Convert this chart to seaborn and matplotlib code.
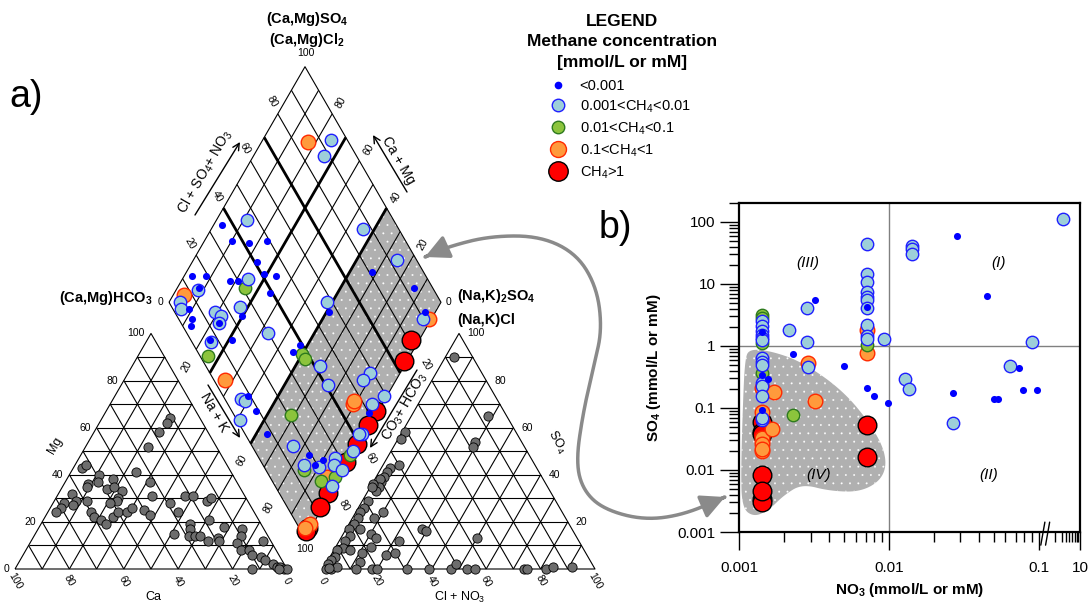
import numpy as np
import seaborn as sns
import matplotlib
matplotlib.use('Agg')
from matplotlib import pyplot as plt
from matplotlib.path import Path
from matplotlib.patches import FancyArrowPatch, Polygon
from matplotlib.lines import Line2D
from matplotlib.ticker import FixedLocator, NullFormatter

sns.set_theme(style='white')
plt.rcParams['font.family'] = ['Liberation Sans', 'DejaVu Sans']
plt.rcParams.update({
    'mathtext.fontset': 'custom',
    'mathtext.rm': 'Liberation Sans',
    'mathtext.it': 'Liberation Sans:italic',
    'mathtext.bf': 'Liberation Sans:bold',
    'text.color': 'black', 'axes.labelcolor': 'black',
    'xtick.color': 'black', 'ytick.color': 'black', 'axes.edgecolor': 'black',
    'hatch.linewidth': 0.15,
})

# ---------------- data ----------------
# cation triangle (Ca %, Mg %), Na+K = rest
cat_ca = [11, 13, 18, 25, 54, 52, 35, 49, 51, 45, 55, 56, 32, 49, 46, 44, 47, 48, 51, 34,
          63, 63, 68, 70, 73, 59, 65, 60, 60, 58, 57, 53, 50, 47, 44, 40, 39, 29, 22, 19,
          15, 13, 28, 18, 26, 27, 34, 29, 27, 25, 23, 19, 19, 14, 8, 10, 13, 13, 10, 10,
          3, 7, 6, 13, 4, 3, 2, 1, 0, 3]
cat_mg = [64, 62, 58, 52, 43, 44, 41, 40, 37, 38, 36, 35, 37, 34, 35, 33, 30, 29, 28, 31,
          32, 29, 28, 26, 24, 29, 27, 24, 22, 21, 19, 22, 24, 24, 26, 25, 23, 28, 31, 31,
          29, 30, 24, 21, 19, 17, 15, 14, 14, 14, 12, 13, 12, 18, 17, 14, 11, 8, 8, 6,
          12, 5, 4, 0, 2, 1, 1, 0, 0, 0]

# anion triangle (Cl+NO3 %, SO4 %), CO3+HCO3 = rest
an_cl = [3, 28, 29, 29, 1, 1, 6, 3, 3, 3, 3, 2, 3, 3, 0.5, 0.5, 10, 2, 2, 1.5,
         2, 2, 1, 3, 2, 3, 1, 2, 1, 1, 1, 3, 4.5, 6, 5, 8, 10, 13, 20, 23,
         22, 12, 11, 13, 12, 18, 20, 31, 39, 47, 48, 53, 56, 74, 75, 82, 84, 91, 28, 30,
         50, 2]
an_so4 = [90, 65, 54, 52, 58, 55, 44, 43, 41, 39, 37, 38, 35, 33, 36, 35, 24, 29, 26, 24,
          21.5, 19, 17, 14, 12, 9, 8, 5, 4, 2, 0, 0, 1, 8, 17, 21.5, 15, 13, 6, 7,
          12, 3, 7, 9.5, 0, 0, 0, 0, 0, 0, 2, 0, 0, 0, 0, 0, 1, 1, 17, 16,
          13, 0.5]

# diamond: Na+K %, Cl+SO4+NO3 %, methane class (0..4)
dia_na = [17, 25, 26, 11, 3, 10, 17, 23, 24, 29, 34, 35, 24, 25, 18, 21, 3, 8, 8, 8,
          4, 4, 6, 56, 75, 68, 87, 58, 61, 97, 99, 96, 19, 22, 27, 9, 12, 13, 23, 30,
          23, 23, 24, 31, 26, 37, 43, 47, 49, 49, 51, 55, 64, 56, 57, 60, 62, 69, 76, 89,
          88, 99, 97, 99, 89, 89, 96, 99, 97, 99, 99, 98, 99, 76, 69, 99, 99, 99, 84, 88,
          90, 84, 90, 94, 95, 99, 85, 94, 98, 99, 99, 99, 99, 99, 98, 95, 99]
dia_an = [85, 94, 88, 46, 36, 36, 42, 49, 41, 41, 45, 39, 34, 31, 27, 30, 14, 19, 13, 14,
          7, 4, 3, 87, 93, 81, 93, 58, 57, 90, 92, 92, 15, 16, 25, 6, 5, 3, 14, 24,
          14, 7, 7, 15, 3, 4, 30, 6, 7, 9, 1, 9, 8, 35, 39, 38, 38, 42, 41, 59,
          55, 59, 81, 74, 46, 47, 53, 53, 50, 47, 43, 42, 39, 15, 21, 36, 34, 31, 19, 19,
          23, 15, 20, 28, 26, 28, 14, 18, 24, 18, 12, 3, 2, 5, 2, 21, 21]
dia_cls = [3, 1, 1, 1, 0, 0, 0, 0, 0, 0, 0, 0, 1, 2, 0, 0, 0, 0, 1, 0,
           3, 1, 1, 1, 1, 0, 0, 1, 0, 1, 3, 0, 1, 1, 1, 0, 0, 0, 0, 0,
           1, 0, 1, 0, 2, 3, 1, 1, 1, 0, 1, 0, 0, 0, 0, 2, 2, 1, 1, 1,
           1, 1, 4, 4, 3, 3, 1, 4, 0, 4, 1, 1, 4, 1, 2, 1, 2, 4, 0, 0,
           0, 1, 1, 1, 1, 1, 2, 2, 2, 4, 4, 4, 4, 3, 3, 3, 1]

# panel b: NO3 and SO4 (mmol/L), methane class
no3 = [0.00142] * 15 + [0.00157] + [0.00142] * 15 + [0.00166, 0.00142, 0.00142, 0.00142, 0.00142, 0.00142, 0.00171] + \
      [0.00287, 0.00287, 0.00323, 0.00228, 0.00228, 0.0050, 0.00713, 0.00713, 0.00713, 0.0080,
       0.0098, 0.0129, 0.0137, 0.00713, 0.00713, 0.00713, 0.00713, 0.00713, 0.00713, 0.00713,
       0.00713, 0.00713, 0.00713, 0.00713, 0.00713, 0.00713, 0.00713, 0.00214, 0.00284, 0.00323,
       0.00284, 0.0093, 0.0143, 0.0143, 0.0143, 0.0285, 0.0268, 0.0449, 0.090, 0.064,
       0.074, 0.079, 0.098, 0.0505, 0.0537, 0.0268, 3.2]
so4 = [3.1, 2.8, 2.5, 2.1, 1.75, 1.5, 1.65, 1.35, 1.12, 1.25, 0.64, 0.55, 0.49, 0.36, 0.34,
       0.29, 0.25, 0.225, 0.21, 0.155, 0.094, 0.085, 0.063, 0.059, 0.041, 0.0082, 0.0034, 0.0031, 0.029, 0.033, 0.07,
       0.045, 0.02, 0.026, 0.022, 0.038, 0.0045, 0.18,
       0.53, 0.45, 0.13, 0.078, 0.75, 0.47, 0.053, 0.016, 0.21, 0.155,
       0.12, 0.29, 0.205, 0.77, 1.05, 44, 14.7, 10.9, 7.3, 6.2,
       5.6, 4.1, 4.3, 1.8, 2.2, 1.45, 1.3, 1.8, 4.1, 5.5,
       1.16, 1.3, 41, 37, 30, 59, 0.177, 6.5, 1.15, 0.48,
       0.44, 0.198, 0.198, 0.142, 0.14, 0.057, 112]
so4_cls = [2, 2, 1, 1, 1, 1, 0, 1, 2, 1, 1, 1, 1, 2, 0,
           0, 1, 1, 3, 1, 0, 3, 1, 4, 4, 4, 4, 4, 3, 3, 1,
           3, 3, 3, 3, 4, 4, 3,
           3, 1, 3, 2, 0, 0, 4, 4, 0, 0,
           0, 1, 1, 3, 2, 1, 1, 1, 1, 1,
           1, 1, 0, 3, 1, 1, 1, 1, 1, 0,
           1, 1, 1, 1, 1, 0, 0, 0, 1, 1,
           0, 0, 0, 0, 0, 1, 1]

class_labels = ['<0.001', '0.001<CH$_4$<0.01', '0.01<CH$_4$<0.1', '0.1<CH$_4$<1', 'CH$_4$>1']

# ---------------- styles ----------------
FACE = ['#0000ff', '#9dcfd9', '#8cc43c', '#ff9a3c', '#ff0000']
EDGE = ['#0000ff', '#1f1fff', '#2e7a1e', '#ff2a00', '#000000']
LWS = [0, 1.0, 1.0, 1.0, 1.0]
SIZES = [26, 80, 80, 110, 180]
LEG_MS = [5.5, 9, 9, 11.5, 14]
GRAY_PT = '#6d6d6d'

W_PX, H_PX = 1089, 604
fig = plt.figure(figsize=(W_PX / 100, H_PX / 100), dpi=100)
ax = fig.add_axes([0, 0, 1, 1])
ax.set_xlim(0, W_PX)
ax.set_ylim(H_PX, 0)
ax.axis('off')

# piper geometry (unit side, then to pixels)
SQ = np.sqrt(3) / 2
L, X0, Y0 = 272.0, 15.0, 569.0
G = 36.0 / L


def to_px(u, v):
    return X0 + L * np.asarray(u, float), Y0 - L * np.asarray(v, float)


def cat_uv(ca, mg):
    ca, mg = np.asarray(ca, float) / 100, np.asarray(mg, float) / 100
    return 1 - ca - mg + mg / 2, mg * SQ


def an_uv(cl, so):
    cl, so = np.asarray(cl, float) / 100, np.asarray(so, float) / 100
    return 1 + G + cl + so / 2, so * SQ


def dia_uv(na, an):
    n, s = np.asarray(na, float) / 100, np.asarray(an, float) / 100
    return 0.5 + G / 2 + (n + s) / 2, SQ * (1 + G) + SQ * (s - n)


def seg(uv, lw=0.8, **kw):
    x, y = to_px(*uv)
    ax.plot(x, y, color='black', lw=lw, solid_capstyle='butt', zorder=2, **kw)


# gray zone of the diamond
gx, gy = to_px(*dia_uv([60, 100, 100, 60], [0, 0, 100, 100]))
ax.add_patch(Polygon(np.column_stack([gx, gy]), closed=True, facecolor='#b0b0b0',
                     edgecolor='white', lw=0, hatch='..', zorder=1))

for f in range(10, 100, 10):
    seg(cat_uv([100 - f, 0], [f, f]))
    seg(cat_uv([f, f], [100 - f, 0]))
    seg(cat_uv([100 - f, 0], [0, 100 - f]))
    seg(an_uv([0, 100 - f], [f, f]))
    seg(an_uv([f, f], [0, 100 - f]))
    seg(an_uv([100 - f, 0], [0, 100 - f]))
    seg(dia_uv([f, f], [0, 100]), lw=2.0 if f in (30, 60) else 0.8)
    seg(dia_uv([0, 100], [f, f]), lw=2.0 if f in (40, 70) else 0.8)
seg(cat_uv([100, 0, 0, 100], [0, 0, 100, 0]))
seg(an_uv([0, 100, 0, 0], [0, 0, 100, 0]))
seg(dia_uv([0, 100, 100, 0, 0], [0, 0, 100, 100, 0]))

# triangle points
cx, cy = to_px(*cat_uv(cat_ca, cat_mg))
sns.scatterplot(x=cx, y=cy, ax=ax, s=44, color=GRAY_PT, edgecolor='black', linewidth=0.6,
                zorder=3, legend=False)
axx, ayy = to_px(*an_uv(an_cl, an_so4))
sns.scatterplot(x=axx, y=ayy, ax=ax, s=44, color=GRAY_PT, edgecolor='black', linewidth=0.6,
                zorder=3, legend=False)

# diamond points by class
dx, dy = to_px(*dia_uv(dia_na, dia_an))
dcls = np.array(dia_cls)
for k in [4, 3, 2, 1, 0]:
    m = dcls == k
    sns.scatterplot(x=dx[m], y=dy[m], ax=ax, s=SIZES[k], color=FACE[k], edgecolor=EDGE[k],
                    linewidth=LWS[k], zorder=4 + (4 - k), legend=False)
ax.set_xlim(0, W_PX)
ax.set_ylim(H_PX, 0)

# tick labels
TFS = 7.5
tk = dict(fontsize=TFS, ha='center', va='center')
for c in range(0, 101, 20):
    x, y = to_px(*cat_uv(c, 0))
    ax.text(x, y + 12, str(c), rotation=-60, **tk)
    x, y = to_px(*an_uv(c, 0))
    ax.text(x, y + 12, str(c), rotation=-60, **tk)
    x, y = to_px(*cat_uv(100 - c, c))
    ax.text(x - 6, y, str(c), fontsize=TFS, ha='right', va='center')
    if c > 0:
        x, y = to_px(*an_uv(100 - c, c))
        ax.text(x + 8, y, str(c), fontsize=TFS, ha='left', va='center')
for c in (20, 40, 60, 80):
    x, y = to_px(*dia_uv(0, c))
    ax.text(x - 6, y - 12, str(c), rotation=-60, **tk)
    x, y = to_px(*dia_uv(c, 100))
    ax.text(x + 9, y - 11, str(100 - c), rotation=60, **tk)
for c in (20, 60, 80):
    x, y = to_px(*dia_uv(c, 0))
    ax.text(x - 9, y + 17, str(c), rotation=60, **tk)
for c in (80, 40, 20):
    x, y = to_px(*dia_uv(100, c))
    ax.text(x + 12, y + 15, str(100 - c), rotation=-60, **tk)
x, y = to_px(*dia_uv(0, 0))
ax.text(x - 9, y, '0', **tk)
x, y = to_px(*dia_uv(0, 100))
ax.text(x + 1, y - 14, '100', **tk)
x, y = to_px(*dia_uv(100, 100))
ax.text(x + 8, y, '0', **tk)
x, y = to_px(*dia_uv(100, 0))
ax.text(x, y + 11, '100', **tk)

# axis names
ax.text(153, 597, 'Ca', fontsize=9, ha='center', va='center')
ax.text(55, 445, 'Mg', fontsize=9, ha='center', va='center', rotation=60)
ax.text(460, 597, 'Cl + NO$_3$', fontsize=9, ha='center', va='center')
ax.text(557, 442, 'SO$_4$', fontsize=9, ha='center', va='center', rotation=-60)

# vertex labels
vb = dict(fontsize=10.5, fontweight='bold', va='center')
ax.text(307, 19, r'(Ca,Mg)SO$_\mathbf{4}$', ha='center', **vb)
ax.text(307, 40, r'(Ca,Mg)Cl$_\mathbf{2}$', ha='center', **vb)
ax.text(153, 298, r'(Ca,Mg)HCO$_\mathbf{3}$', ha='right', **vb)
ax.text(457, 296, r'(Na,K)$_\mathbf{2}$SO$_\mathbf{4}$', ha='left', **vb)
ax.text(457, 320, '(Na,K)Cl', ha='left', **vb)

# diamond axis arrows
arr = dict(arrowstyle='->', color='black', lw=1, shrinkA=0, shrinkB=0, mutation_scale=12)
ax.annotate('', xy=(240, 142), xytext=(195, 215), arrowprops=arr)
ax.annotate('', xy=(373, 135), xytext=(407, 192), arrowprops=arr)
ax.annotate('', xy=(240, 438), xytext=(208, 385), arrowprops=arr)
ax.annotate('', xy=(370, 448), xytext=(417, 370), arrowprops=arr)
lab = dict(fontsize=10, ha='center', va='center')
ax.text(205, 172, 'Cl + SO$_4$+ NO$_3$', rotation=60, **lab)
ax.text(398, 160, 'Ca + Mg', rotation=-60, **lab)
ax.text(214, 413, 'Na + K', rotation=-60, **lab)
ax.text(405, 407, 'CO$_3$+ HCO$_3$', rotation=60, **lab)


def chaikin(pts, n=4, closed=True):
    pts = np.asarray(pts, float)
    for _ in range(n):
        p = np.vstack([pts, pts[:1]]) if closed else pts
        q = 0.75 * p[:-1] + 0.25 * p[1:]
        r = 0.25 * p[:-1] + 0.75 * p[1:]
        new = np.empty((2 * len(q), 2))
        new[0::2] = q
        new[1::2] = r
        if not closed:
            new = np.vstack([pts[:1], new, pts[-1:]])
        pts = new
    return pts


# connecting arrow between panels
arc = chaikin([(425, 257), (447, 247), (490, 236), (540, 236), (577, 254), (597, 288),
               (602, 330), (594, 365), (583, 413), (576, 462), (583, 490), (603, 509),
               (643, 520), (683, 515), (725, 497)], n=4, closed=False)
ax.add_patch(FancyArrowPatch(path=Path(arc), arrowstyle='<|-|>,head_length=0.6,head_width=0.3',
                             mutation_scale=24, color='#8a8a8a', lw=2.5, zorder=8))

ax.text(26, 97, 'a)', fontsize=27, ha='center', va='center')
ax.text(615, 228, 'b)', fontsize=27, ha='center', va='center')

# legend
for txt, yy in zip(['LEGEND', 'Methane concentration', '[mmol/L or mM]'], [21, 42, 62]):
    ax.text(622, yy, txt, fontsize=12.5, fontweight='bold', ha='center', va='center')
handles = [Line2D([], [], ls='', marker='o', ms=LEG_MS[k], mfc=FACE[k], mec=EDGE[k],
                  mew=max(LWS[k], 0.01)) for k in range(5)]
ax.legend(handles, class_labels, loc='upper left', bbox_to_anchor=(549 / W_PX, 1 - 79 / H_PX),
          bbox_transform=fig.transFigure, frameon=False, fontsize=10.5, handlelength=1.2,
          handletextpad=0.9, labelspacing=0.38, borderpad=0, borderaxespad=0)

# ---------------- panel b ----------------
XB, TW = 0.11, 0.234


def fwd(x):
    x = np.asarray(x, float)
    lx = np.log10(np.clip(x, 1e-12, None))
    return np.where(x <= XB, lx, np.log10(XB) + TW * np.clip(lx, 0, None))


def inv(y):
    y = np.asarray(y, float)
    lb = np.log10(XB)
    return np.where(y <= lb, 10.0 ** np.clip(y, -12, 12), 10.0 ** np.clip((y - lb) / TW, -12, 12))


axb = fig.add_axes([739 / W_PX, (H_PX - 532) / H_PX, 341 / W_PX, 329 / H_PX])
bx, by, bc = np.array(no3), np.array(so4), np.array(so4_cls)
for k in [4, 3, 2, 1, 0]:
    m = bc == k
    sns.scatterplot(x=bx[m], y=by[m], ax=axb, s=SIZES[k], color=FACE[k], edgecolor=EDGE[k],
                    linewidth=LWS[k], zorder=4 + (4 - k), legend=False)

# region (IV)
blob = np.array([(-2.933, -0.048), (-2.786, -0.081), (-2.578, -0.258), (-2.31, -0.71),
                 (-2.116, -1.274), (-2.015, -1.758), (-2.035, -2.129), (-2.183, -2.355),
                 (-2.397, -2.339), (-2.578, -2.226), (-2.699, -2.403), (-2.80, -2.645),
                 (-2.90, -2.758), (-2.98, -2.613), (-2.987, -2.0), (-2.973, -0.871),
                 (-2.96, -0.226)])
bl = 10 ** chaikin(blob, n=4, closed=True)
axb.fill(bl[:, 0], bl[:, 1], facecolor='#b0b0b0', edgecolor='white', lw=0, hatch='..', zorder=1)
axb.axvline(0.01, color='#808080', lw=1, zorder=2)
axb.axhline(1, color='#808080', lw=1, zorder=2)

axb.set_xscale('function', functions=(fwd, inv))
axb.set_yscale('log')
axb.set_xlim(0.001, 10)
axb.set_ylim(0.001, 202)
axb.set_xticks([0.001, 0.01, 0.1, 10], ['0.001', '0.01', '0.1', '10'])
minors = [k * 1e-3 for k in range(2, 10)] + [k * 1e-2 for k in range(2, 10)] + list(range(2, 10))
axb.xaxis.set_minor_locator(FixedLocator(minors))
axb.xaxis.set_minor_formatter(NullFormatter())
axb.set_yticks([0.001, 0.01, 0.1, 1, 10, 100], ['0.001', '0.01', '0.1', '1', '10', '100'])
axb.tick_params(which='both', bottom=True, left=True, direction='out', width=1, labelsize=11)
axb.tick_params(axis='y', which='major', length=14, pad=3)
axb.tick_params(axis='y', which='minor', length=7)
axb.tick_params(axis='x', which='major', length=13, pad=8)
axb.tick_params(axis='x', which='minor', length=7)
for sp in axb.spines.values():
    sp.set_linewidth(1.6)
    sp.set_color('black')

# axis break marks
for off in (0.0, 0.014):
    axb.plot([0.885 + off, 0.897 + off], [-0.04, 0.03], transform=axb.transAxes, color='black',
             lw=1, clip_on=False, zorder=10)

qt = dict(fontsize=11, style='italic', ha='center', va='center')
axb.text(0.00286, 22, '(III)', **qt)
axb.text(0.054, 22, '(I)', **qt)
axb.text(0.0034, 0.0083, '(IV)', **qt)
axb.text(0.046, 0.0083, '(II)', **qt)

axb.set_xlabel(r'NO$_\mathbf{3}$ (mmol/L or mM)', fontsize=11, fontweight='bold')
axb.set_ylabel(r'SO$_\mathbf{4}$ (mmol/L or mM)', fontsize=11, fontweight='bold')
axb.xaxis.set_label_coords(0.5, -0.15)
axb.yaxis.set_label_coords(-0.222, 0.5)

fig.savefig('out.png', dpi=100)
